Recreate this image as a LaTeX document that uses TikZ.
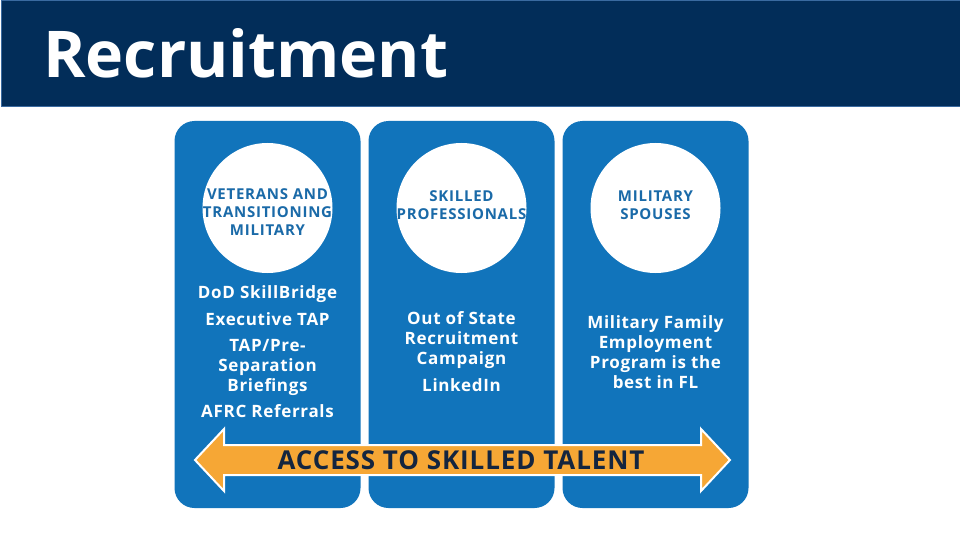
\documentclass[tikz,border=0pt]{standalone}
\usepackage{fontspec}
\setmainfont{Open Sans}
\newfontfamily\bodyfont[LetterSpace=4]{Open Sans}
\newfontfamily\badgefont[LetterSpace=5]{Open Sans}
\newfontfamily\arrowfont[LetterSpace=3.5]{Open Sans}
\definecolor{navy}{HTML}{022D59}
\definecolor{navyedge}{HTML}{3A6AA0}
\definecolor{colblue}{HTML}{1174BB}
\definecolor{circtext}{HTML}{1A6AA8}
\definecolor{arroworange}{HTML}{F6A735}
\definecolor{arrowtext}{HTML}{14253F}
\begin{document}
\begin{tikzpicture}[x=1pt,y=-1pt,
  column/.style={fill=colblue, draw=none, rounded corners=20pt, minimum width=186pt, minimum height=387pt, inner sep=0pt},
  badge/.style={circle, fill=white, minimum size=130pt, inner sep=0pt},
  badgetext/.style={text=circtext, font=\badgefont\fontsize{15}{18}\selectfont\bfseries, align=center},
  bodytext/.style={text=white, font=\bodyfont\fontsize{17}{19.7}\selectfont\bfseries, align=center, anchor=base}
]
\useasboundingbox (0,0) rectangle (960,540);
\fill[white] (0,0) rectangle (960,540);
% banner
\node[fill=navy, draw=navyedge, line width=1pt, minimum width=959pt, minimum height=106pt, inner sep=0pt, anchor=north west] (banner) at (0.5,0.5) {};
\node[text=white, font=\fontsize{64.5}{66}\selectfont\bfseries, anchor=base west, inner sep=0pt] (title) at (43,78) {Recruitment};
% columns
\node[column] (col1) at (267.5,314.5) {};
\node[column] (col2) at (461.5,314.5) {};
\node[column] (col3) at (655.5,314.5) {};
% circles
\node[badge] (c1) at (267.5,208) {};
\node[badge] (c2) at (461.5,208) {};
\node[badge] (c3) at (655.5,208) {};
\node[badgetext] (t1) at (267.5,212) {VETERANS AND\\TRANSITIONING\\MILITARY};
\node[badgetext] (t2) at (461.5,205) {SKILLED\\PROFESSIONALS};
\node[badgetext] (t3) at (655.5,205) {MILITARY\\SPOUSES};
% body texts (anchor = baseline of last line)
\node[bodytext] (b1a) at (267.5,298) {DoD SkillBridge};
\node[bodytext] (b1b) at (267.5,325) {Executive TAP};
\node[bodytext] (b1c) at (267.5,391) {TAP/Pre-\\Separation\\Briefings};
\node[bodytext] (b1d) at (267.5,417) {AFRC Referrals};
\node[bodytext] (b2a) at (461.5,364) {Out of State\\Recruitment\\Campaign};
\node[bodytext] (b2b) at (461.5,391) {LinkedIn};
\node[bodytext] (b3a) at (655.5,388) {Military Family\\Employment\\Program is the\\best in FL};
% arrow
\filldraw[fill=arroworange, draw=white, line width=2pt, line join=miter]
  (195,460) -- (224,429) -- (224,445) -- (701,445) -- (701,429) -- (730,460)
  -- (701,491) -- (701,475) -- (224,475) -- (224,491) -- cycle;
\node[text=arrowtext, font=\arrowfont\fontsize{26}{26}\selectfont\bfseries, inner sep=0pt] (arrowlabel) at (461,460) {ACCESS TO SKILLED TALENT};
\end{tikzpicture}
\end{document}
